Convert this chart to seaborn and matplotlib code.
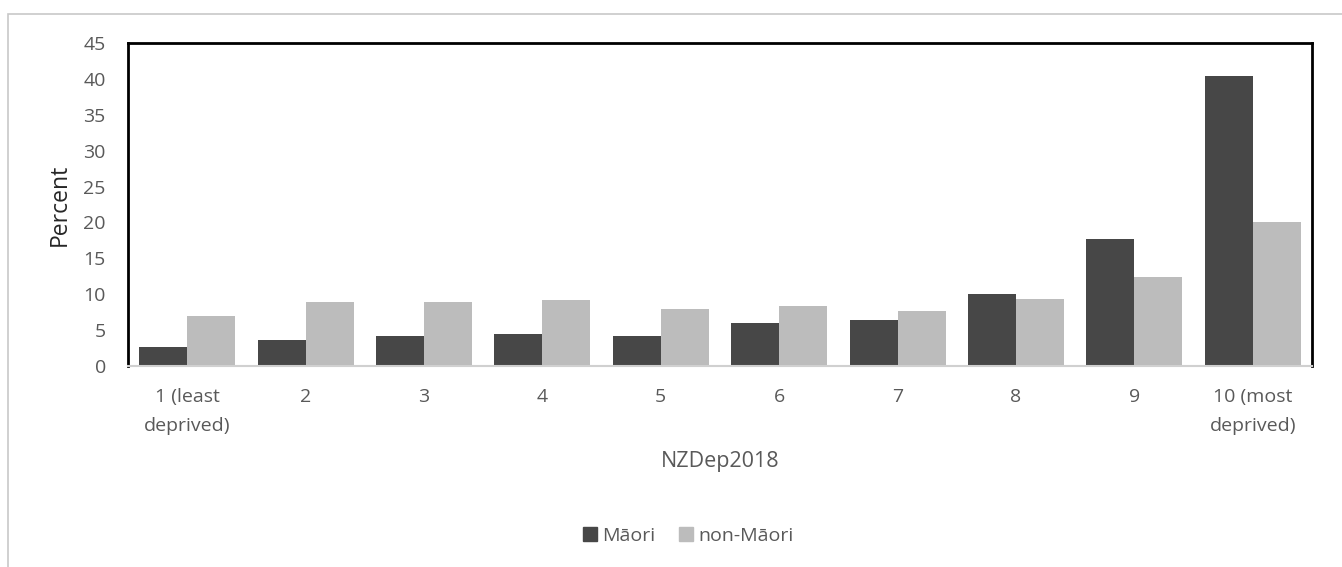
import numpy as np
import pandas as pd
import matplotlib
matplotlib.use("Agg")
import matplotlib.pyplot as plt
from matplotlib.patches import Rectangle
import seaborn as sns

# ── Data ──────────────────────────────────────────────────────────────────────
deciles = ["1 (least\ndeprived)", "2", "3", "4", "5", "6", "7", "8", "9",
           "10 (most\ndeprived)"]
maori     = [2.6, 3.6, 4.2, 4.4, 4.2, 6.0, 6.4, 10.0, 17.7, 40.4]
non_maori = [7.0, 8.9, 8.9, 9.2, 8.0, 8.4, 7.6, 9.4, 12.4, 20.1]
groups    = ["Māori", "non-Māori"]
y_ticks   = list(range(0, 50, 5))

df = pd.DataFrame({
    "NZDep2018": deciles * 2,
    "Percent":   maori + non_maori,
    "group":     [groups[0]] * len(deciles) + [groups[1]] * len(deciles),
})

# ── Style ─────────────────────────────────────────────────────────────────────
sns.set_style("white")
plt.rcParams["font.family"] = ["Open Sans", "DejaVu Sans"]
text_grey = "#595959"
palette = {"Māori": "#474747", "non-Māori": "#bcbcbc"}

fig = plt.figure(figsize=(13.42, 5.67), dpi=100)
ax = fig.add_axes([0.0954, 0.3545, 0.8822, 0.5695])

sns.barplot(data=df, x="NZDep2018", y="Percent", hue="group",
            palette=palette, width=0.81, saturation=1, linewidth=0,
            ax=ax, legend=False)

ax.set_ylim(0, 45)
ax.set_yticks(y_ticks)
ax.set_xlim(-0.5, len(deciles) - 0.5)
ax.tick_params(axis="both", length=0, labelsize=14, colors=text_grey)
ax.tick_params(axis="y", pad=16)
ax.tick_params(axis="x", pad=16)
for lbl in ax.get_xticklabels():
    lbl.set_linespacing(1.75)

ax.set_ylabel("Percent", fontsize=16.5, color="#262626", labelpad=8)
ax.set_xlabel("NZDep2018", fontsize=15.5, color=text_grey, labelpad=12)

for side in ("top", "left", "right"):
    ax.spines[side].set_visible(True)
    ax.spines[side].set_color("black")
    ax.spines[side].set_linewidth(2)
ax.spines["bottom"].set_color("#d0d0d0")
ax.spines["bottom"].set_linewidth(1.5)

# legend at bottom centre
handles = [Rectangle((0, 0), 1, 1, color=palette[g]) for g in groups]
fig.legend(handles, groups, loc="center", bbox_to_anchor=(0.513, 0.055),
           ncol=2, frameon=False, fontsize=14, handlelength=0.7,
           handleheight=0.7, handletextpad=0.3, columnspacing=1.2,
           labelcolor=text_grey)

# light outer frame of the chart area
fig.patches.append(Rectangle((8 / 1342, -0.01), 1.0, 1 - 14 / 567 + 0.01,
                             transform=fig.transFigure, fill=False,
                             edgecolor="#c8c8c8", linewidth=1.2))

fig.savefig("out.png", dpi=100)
